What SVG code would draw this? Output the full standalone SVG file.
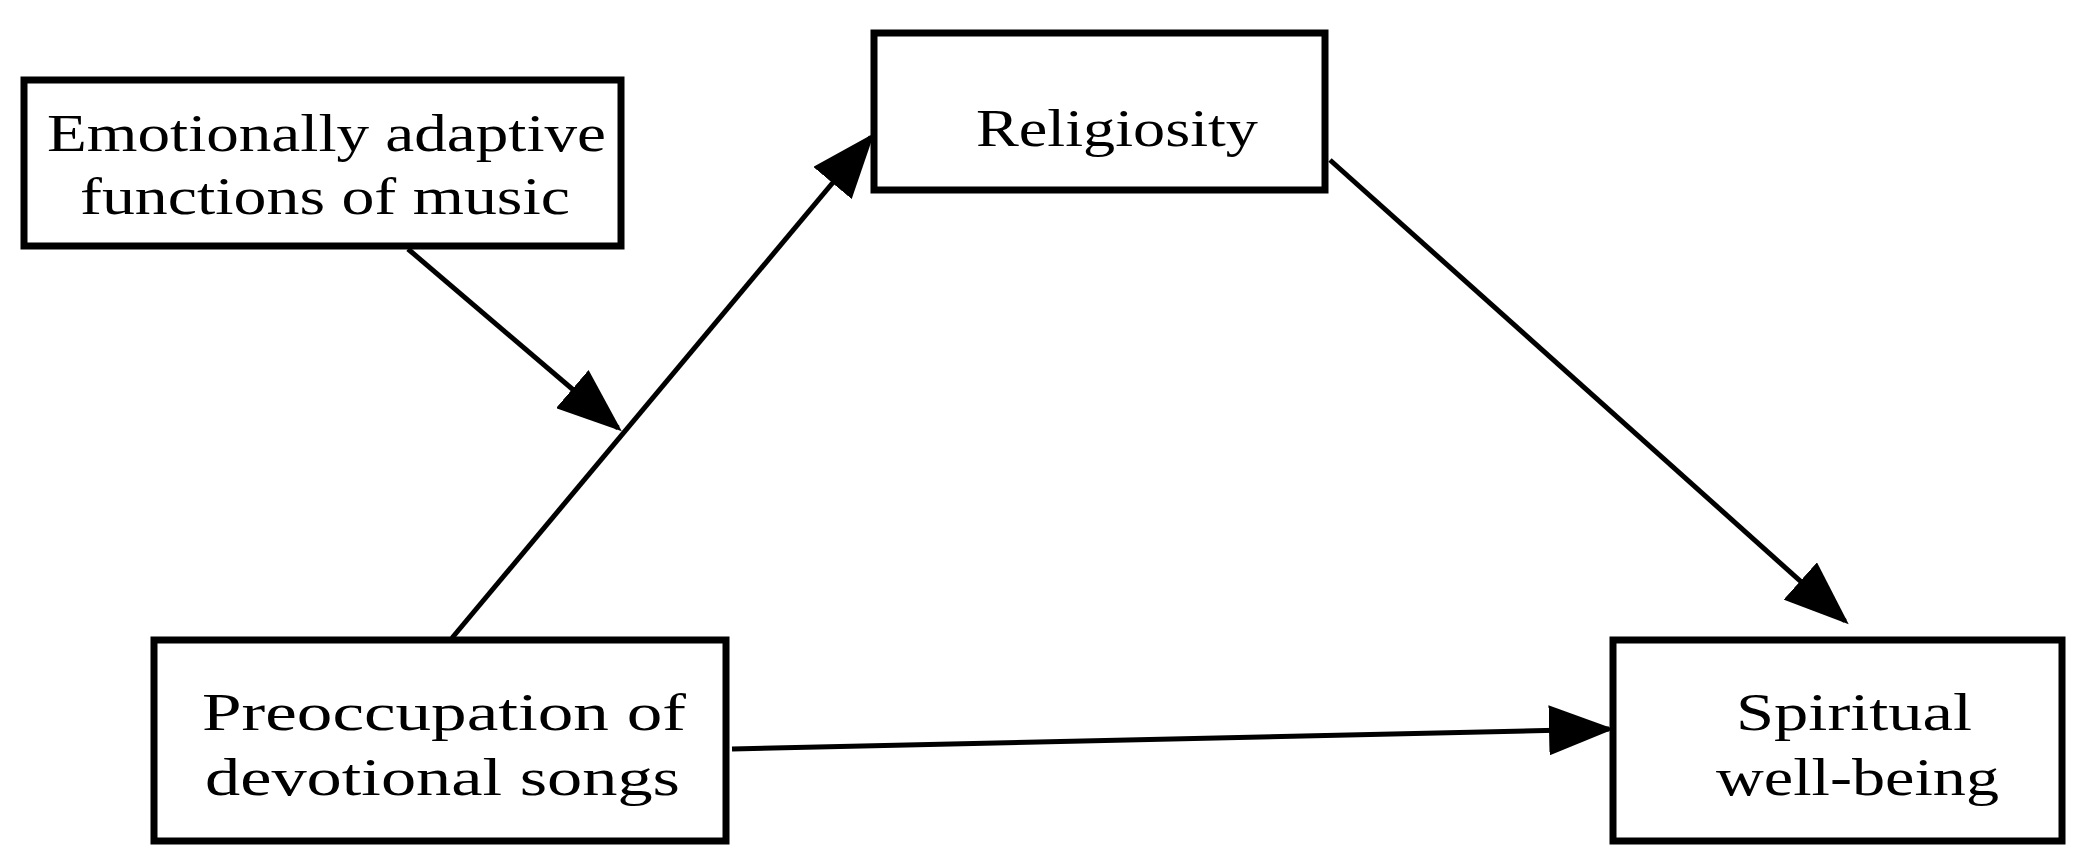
<svg xmlns="http://www.w3.org/2000/svg" width="2086" height="866" viewBox="0 0 2086 866">
<style>
.box{fill:#fff;stroke:#000;stroke-width:7}
.t{font-family:"Liberation Serif",serif;font-size:52px;fill:#000}
.c{stroke:#000;stroke-width:5;fill:none;marker-end:url(#ah)}
</style>
<defs><marker id="ah" markerWidth="13" markerHeight="10" refX="12" refY="5" orient="auto" markerUnits="strokeWidth"><path d="M0,0 L13,5 L0,10 Z" fill="#000"/></marker></defs>
<rect width="2086" height="866" fill="#fff"/>
<g id="connectors">
<line class="c" x1="408" y1="249" x2="618" y2="428"/>
<line class="c" x1="452" y1="638" x2="871" y2="137"/>
<line class="c" x1="1330" y1="160" x2="1845" y2="621"/>
<line class="c" x1="732" y1="749" x2="1609" y2="729"/>
</g>
<g id="emotional"><rect class="box" x="24" y="80" width="597" height="166"/>
<text class="t" x="47" y="151" textLength="559" lengthAdjust="spacingAndGlyphs">Emotionally adaptive</text>
<text class="t" x="80" y="214" textLength="490" lengthAdjust="spacingAndGlyphs">functions of music</text></g>
<g id="religiosity"><rect class="box" x="874" y="33" width="451" height="157"/>
<text class="t" x="976" y="146" textLength="282" lengthAdjust="spacingAndGlyphs">Religiosity</text></g>
<g id="preoccupation"><rect class="box" x="154" y="640" width="572" height="201"/>
<text class="t" x="202" y="730" textLength="484" lengthAdjust="spacingAndGlyphs">Preoccupation  of</text>
<text class="t" x="205" y="795" textLength="475" lengthAdjust="spacingAndGlyphs">devotional  songs</text></g>
<g id="spiritual"><rect class="box" x="1613" y="640" width="449" height="201"/>
<text class="t" x="1736" y="730" textLength="236" lengthAdjust="spacingAndGlyphs">Spiritual</text>
<text class="t" x="1716" y="795" textLength="283" lengthAdjust="spacingAndGlyphs">well-being</text></g>
</svg>
